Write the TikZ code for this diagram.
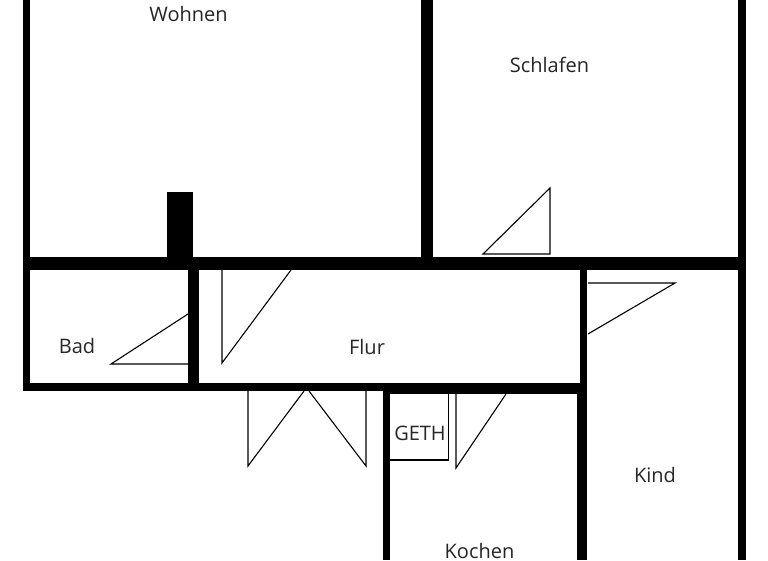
\documentclass[tikz,border=0pt]{standalone}
\usepackage{fontspec}
\setmainfont{Open Sans}
\tikzset{
  wall/.style={fill=black, draw=none},
  door/.style={black, line width=1.1pt, line join=miter},
  room/.style={inner sep=0pt, font=\fontsize{20}{22}\selectfont, text=black!85}
}
\begin{document}
\begin{tikzpicture}[x=1pt,y=-1pt]
    \clip (0,0) rectangle (768,560) ;
    \fill [white] (0,0) rectangle (768,560) ;
    % walls
    \foreach \xa/\ya/\xb/\yb in {23/0/30/390, 421/0/433/258, 738/0/746/560,
      23/257/746/270, 167/192/192.5/258, 188/270/199/390, 23/383/587/391,
      390/383/587/394, 383/383/390/560, 580/270/587/391, 577/390/587/560}
    { \fill [wall] (\xa,\ya) rectangle (\xb,\yb) ; }
    % doors
    \draw [door] (550,254) -- (483,254) -- (550,188) -- cycle ;
    \draw [door] (588,283) -- (675,283) -- (588,334) ;
    \draw [door] (222,270) -- (222,363) -- (291,270) ;
    \draw [door] (188,314) -- (111,364) -- (188,364) ;
    \draw [door] (248,391) -- (248,466) -- (304,391) ;
    \draw [door] (366,391) -- (366,466) -- (309,391) ;
    \draw [door] (456,394) -- (456,468) -- (506,394) ;
    \draw [door] (390,460) -- (448.5,460) -- (448.5,394) ;
    % rooms
    \node [room] (wohnen) at (188.5,14) {Wohnen} ;
    \node [room] (schlafen) at (549.5,65) {Schlafen} ;
    \node [room] (bad) at (77,345.5) {Bad} ;
    \node [room] (flur) at (367,347) {Flur} ;
    \node [room] (geth) at (420,433) {GETH} ;
    \node [room] (kind) at (655,474.5) {Kind} ;
    \node [room] (kochen) at (479.5,551) {Kochen} ;
  \end{tikzpicture}
\end{document}
